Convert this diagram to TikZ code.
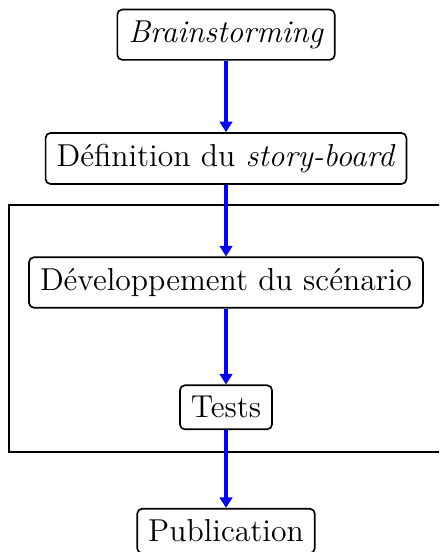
\documentclass[tikz,border=0pt]{standalone}
\usepackage{graphicx}
\usetikzlibrary{arrows.meta}
\newcommand\steplbl[1]{\scalebox{0.80}{\fontsize{12pt}{14pt}\selectfont #1}}
\begin{document}
\begin{tikzpicture}[x=0.30303pt,y=-0.30303pt,
  stepbox/.style={draw,line width=0.5pt,rounded corners=1.5pt,inner xsep=3.33pt,inner ysep=3.37pt},
  flow/.style={draw=blue,line width=1pt,-{Triangle[length=3.2pt,width=3.8pt]}}]
\clip (0,0) rectangle (439,552);
\draw[line width=0.5pt] (9.3,205) rectangle (460,452.3);
\node[stepbox] (brain) at (226,34.7) {\steplbl{\textit{Brainstorming}}};
\node[stepbox] (def) at (226,158.5) {\steplbl{Définition du \textit{story-board}}};
\node[stepbox] (dev) at (226,282.5) {\steplbl{Développement du scénario}};
\node[stepbox] (tests) at (226,407.3) {\steplbl{Tests}};
\node[stepbox] (pub) at (226,531) {\steplbl{Publication}};
\draw[flow] (brain) -- (def);
\draw[flow] (def) -- (dev);
\draw[flow] (dev) -- (tests);
\draw[flow] (tests) -- (pub);
\end{tikzpicture}
\end{document}
